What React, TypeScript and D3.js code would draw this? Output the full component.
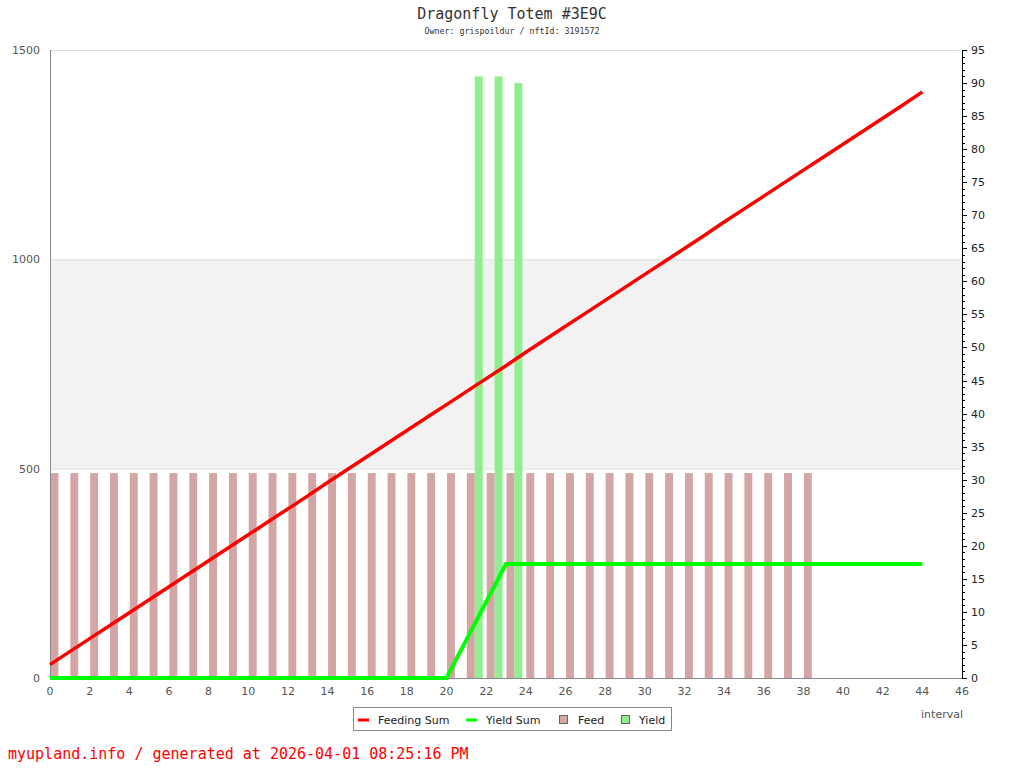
import React from "react";
import * as d3 from "d3";

const title = "Dragonfly Totem #3E9C";
const subtitle = "Owner: grispoildur / nftId: 3191572";
const footer = "myupland.info / generated at 2026-04-01 08:25:16 PM";

const feedIntervals = d3.range(0, 39);
const feedValues = [31, 31, 31, 31, 31, 31, 31, 31, 31, 31, 31, 31, 31, 31, 31, 31, 31, 31, 31, 31, 31, 31, 31, 31, 31, 31, 31, 31, 31, 31, 31, 31, 31, 31, 31, 31, 31, 31, 31];
const yieldIntervals = [21, 22, 23];
const yieldValues = [91, 91, 90];
const sumIntervals = d3.range(0, 45);
const feedingSum = [32, 63, 94, 125, 156, 187, 218, 249, 280, 311, 342, 373, 404, 435, 467, 498, 529, 560, 591, 622, 653, 684, 715, 746, 778, 809, 840, 871, 902, 933, 964, 995, 1026, 1057, 1089, 1120, 1151, 1182, 1213, 1244, 1275, 1306, 1337, 1368, 1400];
const yieldSum = [0, 0, 0, 0, 0, 0, 0, 0, 0, 0, 0, 0, 0, 0, 0, 0, 0, 0, 0, 0, 0, 91, 182, 272, 272, 272, 272, 272, 272, 272, 272, 272, 272, 272, 272, 272, 272, 272, 272, 272, 272, 272, 272, 272, 272];
const xTicks = d3.range(0, 47, 2);
const leftTicks = [0, 500, 1000, 1500];
const rightMajor = d3.range(0, 96, 5);
const rightMinor = d3.range(0, 96, 1);

export default function App() {
  const W = 1024, H = 768;
  const x = d3.scaleLinear().domain([0, 46]).range([50, 962]);
  const yL = d3.scaleLinear().domain([0, 1500]).range([678, 50]);
  const yR = d3.scaleLinear().domain([0, 95]).range([678, 50]);
  const bw = x(0.4) - x(0);
  const lineL = (vals: number[]) =>
    d3.line<number>().x((_, i) => x(sumIntervals[i])).y((d) => yL(d))(vals) || "";
  const axisFont = "DejaVu Sans, sans-serif";
  const mono = "DejaVu Sans Mono, monospace";
  return (
    <svg width={W} height={H} style={{ position: "absolute", left: 0, top: 0, background: "#fff" }}>
      <rect x={0} y={0} width={W} height={H} fill="#fff" />
      <text x={512} y={19} textAnchor="middle" fontFamily={mono} fontSize={15} fill="#333">{title}</text>
      <text x={512} y={34} textAnchor="middle" fontFamily={mono} fontSize={8.3} fill="#333">{subtitle}</text>

      {/* band and grid */}
      <rect x={x(0)} y={yL(1000)} width={x(46) - x(0)} height={yL(500) - yL(1000)} fill="#f2f2f2" />
      {leftTicks.slice(1).map((t) => (
        <line key={t} x1={x(0)} x2={x(46)} y1={yL(t) + 0.5} y2={yL(t) + 0.5} stroke="#dedede" strokeWidth={1} />
      ))}

      {/* bars */}
      {feedIntervals.map((d, i) => (
        <rect key={"f" + d} x={x(d) + 0.5} y={yR(feedValues[i])} width={bw} height={yR(0) - yR(feedValues[i])} fill="#d4a5a5" />
      ))}
      {yieldIntervals.map((d, i) => (
        <rect key={"y" + d} x={x(d) + 0.5 + bw} y={yR(yieldValues[i])} width={bw} height={yR(0) - yR(yieldValues[i])} fill="#90ee90" />
      ))}

      {/* axes */}
      <line x1={x(0) + 0.5} x2={x(0) + 0.5} y1={50} y2={678} stroke="#888" strokeWidth={1} />
      <line x1={x(0)} x2={x(46)} y1={678.5} y2={678.5} stroke="#888" strokeWidth={1} />
      <line x1={x(46) + 0.5} x2={x(46) + 0.5} y1={50} y2={679} stroke="#000" strokeWidth={1} />
      {rightMinor.map((t) => (
        <line key={"m" + t} x1={x(46)} x2={x(46) + (t % 5 === 0 ? 5 : 3)} y1={Math.round(yR(t)) + 0.5} y2={Math.round(yR(t)) + 0.5} stroke="#000" strokeWidth={1} />
      ))}
      {rightMajor.map((t) => (
        <text key={"r" + t} x={x(46) + 9} y={yR(t) + 4} fontFamily={axisFont} fontSize={11} fill="#222">{t}</text>
      ))}
      {leftTicks.map((t) => (
        <text key={"l" + t} x={40} y={yL(t) + 4} textAnchor="end" fontFamily={axisFont} fontSize={11} fill="#555">{t}</text>
      ))}
      {xTicks.map((t) => (
        <text key={"x" + t} x={x(t)} y={695} textAnchor="middle" fontFamily={axisFont} fontSize={11} fill="#555">{t}</text>
      ))}
      <text x={963} y={718} textAnchor="end" fontFamily={axisFont} fontSize={11} fill="#555">interval</text>

      {/* lines */}
      <path d={lineL(yieldSum)} fill="none" stroke="#00ff00" strokeWidth={4} />
      <path d={lineL(feedingSum)} fill="none" stroke="#ff0000" strokeWidth={3.5} />

      {/* legend */}
      <rect x={353.5} y={707.5} width={318} height={23} fill="#fff" stroke="#888" strokeWidth={1} />
      <line x1={358} x2={369} y1={720} y2={720} stroke="#ff0000" strokeWidth={3} />
      <text x={378} y={723.5} fontFamily={axisFont} fontSize={11} fill="#222">Feeding Sum</text>
      <line x1={466} x2={477} y1={720} y2={720} stroke="#00ff00" strokeWidth={3} />
      <text x={486} y={723.5} fontFamily={axisFont} fontSize={11} fill="#222">Yield Sum</text>
      <rect x={559.5} y={715.5} width={8} height={8} fill="#d4a5a5" stroke="#666" strokeWidth={1} />
      <text x={578} y={723.5} fontFamily={axisFont} fontSize={11} fill="#222">Feed</text>
      <rect x={621.5} y={715.5} width={8} height={8} fill="#90ee90" stroke="#666" strokeWidth={1} />
      <text x={639} y={723.5} fontFamily={axisFont} fontSize={11} fill="#222">Yield</text>

      <text x={8} y={759} fontFamily={mono} fontSize={15} fill="#ff0000">{footer}</text>
    </svg>
  );
}
